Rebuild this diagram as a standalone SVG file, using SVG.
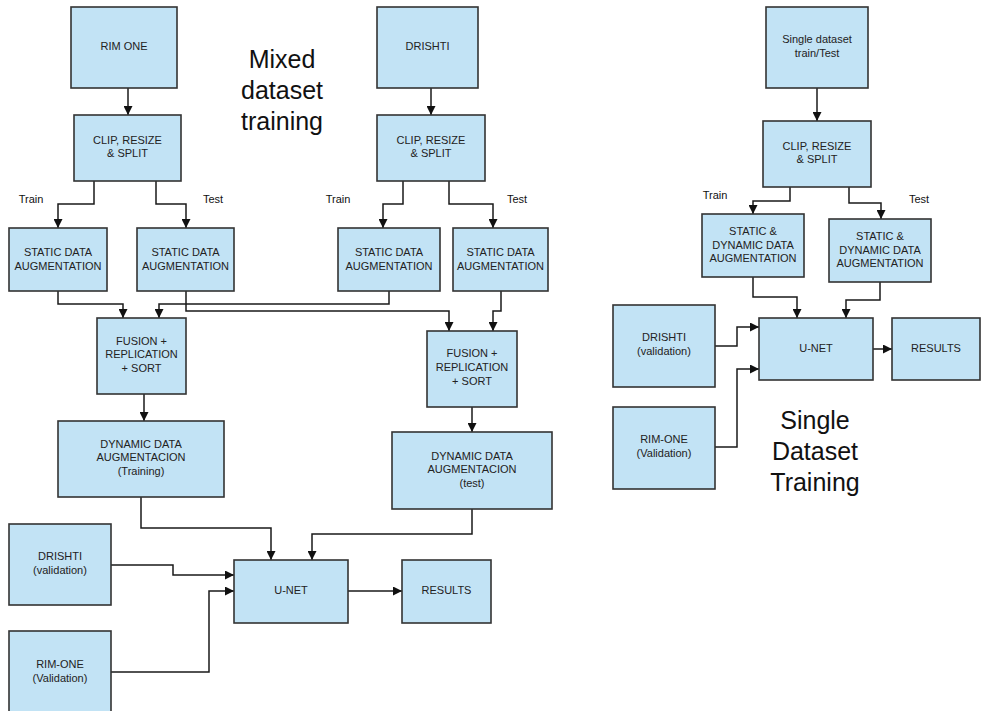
<svg xmlns="http://www.w3.org/2000/svg" width="981" height="711" viewBox="0 0 981 711">
  <defs>
    <style>
      .box { fill: #c2e3f5; stroke: #333333; stroke-width: 1.6; }
      .lbl { font-family: "Liberation Sans", Arial, sans-serif; font-size: 11px; fill: #222222; text-anchor: middle; }
      .side { font-family: "Liberation Sans", Arial, sans-serif; font-size: 11px; fill: #111111; text-anchor: middle; }
      .title { font-family: "Liberation Sans", Arial, sans-serif; font-size: 25px; fill: #111111; text-anchor: middle; }
      .wire { fill: none; stroke: #1a1a1a; stroke-width: 1.5; marker-end: url(#head); }
    </style>
    <marker id="head" markerUnits="userSpaceOnUse" markerWidth="9" markerHeight="9" viewBox="0 0 9 9" refX="9" refY="4.5" orient="auto">
      <path d="M0,0 L9,4.5 L0,9 z" fill="#111111"/>
    </marker>
  </defs>
  <rect width="981" height="711" fill="#ffffff"/>

  <!-- titles -->
  <text class="title" x="282" y="68">Mixed</text>
  <text class="title" x="282" y="99">dataset</text>
  <text class="title" x="282" y="130">training</text>
  <text class="title" x="815" y="429">Single</text>
  <text class="title" x="815" y="460">Dataset</text>
  <text class="title" x="815" y="491">Training</text>

  <!-- split labels -->
  <text class="side" x="31" y="203">Train</text>
  <text class="side" x="213" y="203">Test</text>
  <text class="side" x="338" y="203">Train</text>
  <text class="side" x="517" y="203">Test</text>
  <text class="side" x="715" y="199">Train</text>
  <text class="side" x="919" y="203">Test</text>

  <!-- connectors -->
  <g id="connectors">
    <path class="wire" d="M128,88 V115"/>
    <path class="wire" d="M431,88 V115"/>
    <path class="wire" d="M817,88 V121"/>
    <path class="wire" d="M94,181 V204 H58 V228"/>
    <path class="wire" d="M156,181 V204 H186 V228"/>
    <path class="wire" d="M403,181 V204 H383 V228"/>
    <path class="wire" d="M449,181 V204 H493 V228"/>
    <path class="wire" d="M790,187 V201 H753 V214"/>
    <path class="wire" d="M849,187 V203 H881 V219"/>
    <path class="wire" d="M58,291 V304 H123 V318"/>
    <path class="wire" d="M389,291 V304 H159 V318"/>
    <path class="wire" d="M186,291 V311 H449 V331"/>
    <path class="wire" d="M501,291 V311 H493 V331"/>
    <path class="wire" d="M144,394 V421"/>
    <path class="wire" d="M472,407 V432"/>
    <path class="wire" d="M141,497 V528 H271 V560"/>
    <path class="wire" d="M472,509 V534 H312 V560"/>
    <path class="wire" d="M111,565 H173 V575 H234"/>
    <path class="wire" d="M111,672 H209 V591 H234"/>
    <path class="wire" d="M348,591 H402"/>
    <path class="wire" d="M753,277 V297 H797 V318"/>
    <path class="wire" d="M880,282 V300 H846 V318"/>
    <path class="wire" d="M715,346 H737 V327 H759"/>
    <path class="wire" d="M715,447 H737 V369 H759"/>
    <path class="wire" d="M873,349 H892"/>
  </g>

  <!-- mixed dataset pipeline -->
  <g id="rim-one">
    <rect class="box" x="71" y="7" width="106" height="81"/>
    <text class="lbl" x="124" y="50">RIM ONE</text>
  </g>
  <g id="clip-rim">
    <rect class="box" x="74" y="115" width="107" height="66"/>
    <text class="lbl" x="127.5" y="144">CLIP, RESIZE</text>
    <text class="lbl" x="127.5" y="157">&amp; SPLIT</text>
  </g>
  <g id="static-rim-train">
    <rect class="box" x="9" y="228" width="98" height="63"/>
    <text class="lbl" x="58" y="256">STATIC DATA</text>
    <text class="lbl" x="58" y="270">AUGMENTATION</text>
  </g>
  <g id="static-rim-test">
    <rect class="box" x="137" y="228" width="97" height="63"/>
    <text class="lbl" x="185.5" y="256">STATIC DATA</text>
    <text class="lbl" x="185.5" y="270">AUGMENTATION</text>
  </g>
  <g id="drishti">
    <rect class="box" x="377" y="7" width="101" height="81"/>
    <text class="lbl" x="427.5" y="50">DRISHTI</text>
  </g>
  <g id="clip-drishti">
    <rect class="box" x="377" y="115" width="108" height="66"/>
    <text class="lbl" x="431" y="144">CLIP, RESIZE</text>
    <text class="lbl" x="431" y="157">&amp; SPLIT</text>
  </g>
  <g id="static-drishti-train">
    <rect class="box" x="338" y="228" width="102" height="63"/>
    <text class="lbl" x="389" y="256">STATIC DATA</text>
    <text class="lbl" x="389" y="270">AUGMENTATION</text>
  </g>
  <g id="static-drishti-test">
    <rect class="box" x="453" y="228" width="95" height="63"/>
    <text class="lbl" x="500.5" y="256">STATIC DATA</text>
    <text class="lbl" x="500.5" y="270">AUGMENTATION</text>
  </g>
  <g id="fusion-train">
    <rect class="box" x="97" y="318" width="89" height="76"/>
    <text class="lbl" x="141.5" y="345">FUSION +</text>
    <text class="lbl" x="141.5" y="358">REPLICATION</text>
    <text class="lbl" x="141.5" y="372">+ SORT</text>
  </g>
  <g id="dynamic-train">
    <rect class="box" x="58" y="421" width="166" height="76"/>
    <text class="lbl" x="141" y="448">DYNAMIC DATA</text>
    <text class="lbl" x="141" y="461">AUGMENTACION</text>
    <text class="lbl" x="141" y="475">(Training)</text>
  </g>
  <g id="fusion-test">
    <rect class="box" x="427" y="331" width="90" height="76"/>
    <text class="lbl" x="472" y="357">FUSION +</text>
    <text class="lbl" x="472" y="371">REPLICATION</text>
    <text class="lbl" x="472" y="385">+ SORT</text>
  </g>
  <g id="dynamic-test">
    <rect class="box" x="392" y="432" width="160" height="77"/>
    <text class="lbl" x="472" y="460">DYNAMIC DATA</text>
    <text class="lbl" x="472" y="473">AUGMENTACION</text>
    <text class="lbl" x="472" y="487">(test)</text>
  </g>
  <g id="drishti-validation">
    <rect class="box" x="9" y="524" width="102" height="81"/>
    <text class="lbl" x="60" y="560">DRISHTI</text>
    <text class="lbl" x="60" y="574">(validation)</text>
  </g>
  <g id="rim-one-validation">
    <rect class="box" x="9" y="631" width="102" height="90"/>
    <text class="lbl" x="60" y="668">RIM-ONE</text>
    <text class="lbl" x="60" y="682">(Validation)</text>
  </g>
  <g id="unet">
    <rect class="box" x="234" y="560" width="114" height="63"/>
    <text class="lbl" x="291" y="594">U-NET</text>
  </g>
  <g id="results">
    <rect class="box" x="402" y="560" width="89" height="63"/>
    <text class="lbl" x="446.5" y="594">RESULTS</text>
  </g>

  <!-- single dataset pipeline -->
  <g id="single-dataset">
    <rect class="box" x="766" y="7" width="102" height="81"/>
    <text class="lbl" x="817" y="43">Single dataset</text>
    <text class="lbl" x="817" y="57">train/Test</text>
  </g>
  <g id="clip-single">
    <rect class="box" x="763" y="121" width="108" height="66"/>
    <text class="lbl" x="817" y="150">CLIP, RESIZE</text>
    <text class="lbl" x="817" y="163">&amp; SPLIT</text>
  </g>
  <g id="aug-single-train">
    <rect class="box" x="702" y="214" width="102" height="63"/>
    <text class="lbl" x="753" y="235">STATIC &amp;</text>
    <text class="lbl" x="753" y="249">DYNAMIC DATA</text>
    <text class="lbl" x="753" y="262">AUGMENTATION</text>
  </g>
  <g id="aug-single-test">
    <rect class="box" x="829" y="219" width="102" height="63"/>
    <text class="lbl" x="880" y="240">STATIC &amp;</text>
    <text class="lbl" x="880" y="254">DYNAMIC DATA</text>
    <text class="lbl" x="880" y="267">AUGMENTATION</text>
  </g>
  <g id="drishti-validation-single">
    <rect class="box" x="613" y="305" width="102" height="82"/>
    <text class="lbl" x="664" y="341">DRISHTI</text>
    <text class="lbl" x="664" y="355">(validation)</text>
  </g>
  <g id="rim-one-validation-single">
    <rect class="box" x="613" y="407" width="102" height="82"/>
    <text class="lbl" x="664" y="443">RIM-ONE</text>
    <text class="lbl" x="664" y="457">(Validation)</text>
  </g>
  <g id="unet-single">
    <rect class="box" x="759" y="318" width="114" height="62"/>
    <text class="lbl" x="816" y="352">U-NET</text>
  </g>
  <g id="results-single">
    <rect class="box" x="892" y="318" width="88" height="62"/>
    <text class="lbl" x="936" y="352">RESULTS</text>
  </g>
</svg>
